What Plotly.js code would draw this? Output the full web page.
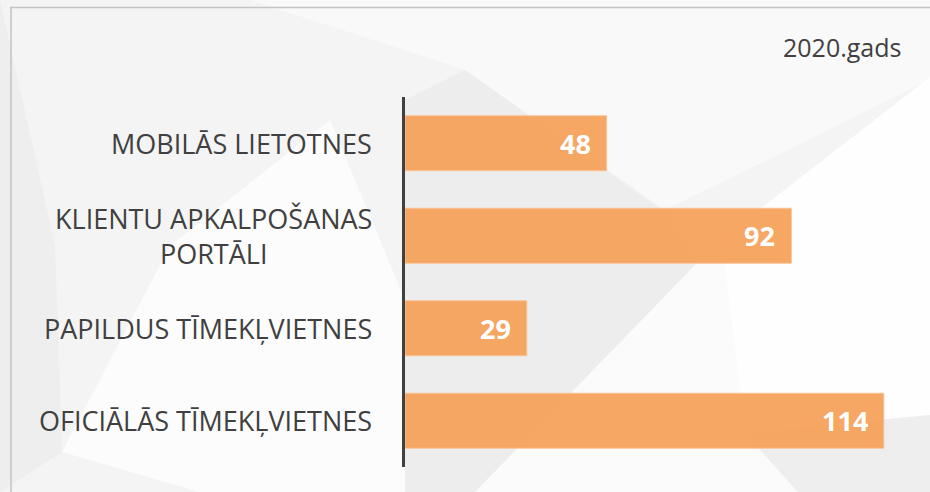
<!DOCTYPE html>
<html>
<head>
<meta charset="utf-8">
<script src="https://cdn.plot.ly/plotly-3.0.1.min.js"></script>
<style>html,body{margin:0;padding:0;background:#fff;}#chart{width:930px;height:492px;}</style>
</head>
<body>
<div id="chart"></div>
<script>
const categories = ["MOBILĀS LIETOTNES", "KLIENTU APKALPOŠANAS<br>PORTĀLI", "PAPILDUS TĪMEKĻVIETNES", "OFICIĀLĀS TĪMEKĻVIETNES"];
const values = [48, 92, 29, 114];
const yearLabel = "2020.gads";

const W = 930, H = 492;
const ML = 405, MR = 21, MT = 97, MB = 25;
const PW = W - ML - MR, PH = H - MT - MB;
function px(x){ return (x - ML) / PW; }
function py(y){ return (H - MB - y) / PH; }
function poly(pts, color){
  let d = pts.map((p,i)=> (i? 'L':'M') + px(p[0]).toFixed(4) + ',' + py(p[1]).toFixed(4)).join(' ') + ' Z';
  return {type:'path', xref:'paper', yref:'paper', path:d, fillcolor:color, line:{width:0}, layer:'below'};
}

const shapes = [
  poly([[0,0],[930,0],[930,80],[665,210],[465,70],[250,0]], 'rgba(255,255,255,0.45)'),
  poly([[0,0],[55,246],[62,452],[0,492]], 'rgba(225,225,225,0.35)'),
  poly([[62,452],[170,246],[330,120],[405,300],[405,492],[200,492]], 'rgba(255,255,255,0.7)'),
  poly([[465,70],[662,210],[698,262],[475,492],[405,492],[405,100]], 'rgba(228,228,228,0.45)'),
  poly([[765,205],[930,77],[930,415],[745,433],[722,246]], 'rgba(255,255,255,0.9)'),
  poly([[475,492],[698,262],[722,246],[745,433],[798,492]], 'rgba(255,255,255,0.6)'),
  poly([[745,433],[930,415],[930,492],[798,492]], 'rgba(230,230,230,0.45)'),
  {type:'line', xref:'paper', yref:'paper', x0:px(10), x1:px(930), y0:py(7.5), y1:py(7.5), line:{color:'#c3c3c3', width:1.5}},
  {type:'line', xref:'paper', yref:'paper', x0:px(11), x1:px(11), y0:py(7.5), y1:py(492), line:{color:'#c3c3c3', width:1.5}}
];

const annotations = [];
categories.forEach((c,i)=>{
  annotations.push({x:0, xref:'paper', y:c, yref:'y', text:c, showarrow:false, xanchor:'right', yanchor:'middle', align:'center', xshift:-31, font:{family:'Open Sans', size:27, color:'#404040'}});
  annotations.push({x:values[i], xref:'x', y:c, yref:'y', text:String(values[i]), showarrow:false, xanchor:'right', yanchor:'middle', xshift:-14, font:{family:'Open Sans', size:27, color:'#ffffff', weight:'bold'}});
});
annotations.push({x:1, xref:'paper', y:1, yref:'paper', text:yearLabel, showarrow:false, xanchor:'right', yanchor:'middle', xshift:-6, yshift:50, font:{family:'Open Sans', size:25, color:'#404040'}});

const trace = {
  type:'bar', orientation:'h', x:values, y:categories,
  marker:{color:'rgba(245,160,88,0.93)', line:{color:'rgba(250,195,150,0.9)', width:1}},
  hoverinfo:'none'
};

const layout = {
  width:W, height:H,
  margin:{l:ML, r:MR, t:MT, b:MB, pad:0},
  paper_bgcolor:'#f4f4f4', plot_bgcolor:'rgba(0,0,0,0)',
  showlegend:false, bargap:0.405,
  xaxis:{range:[0,120], showgrid:false, zeroline:false, showticklabels:false, showline:false, ticks:''},
  yaxis:{type:'category', autorange:'reversed', showgrid:false, zeroline:false, showticklabels:false, showline:true, linecolor:'#404040', linewidth:3, ticks:''},
  shapes:shapes, annotations:annotations
};

Plotly.newPlot('chart', [trace], layout, {displayModeBar:false, staticPlot:true});
</script>
</body>
</html>
